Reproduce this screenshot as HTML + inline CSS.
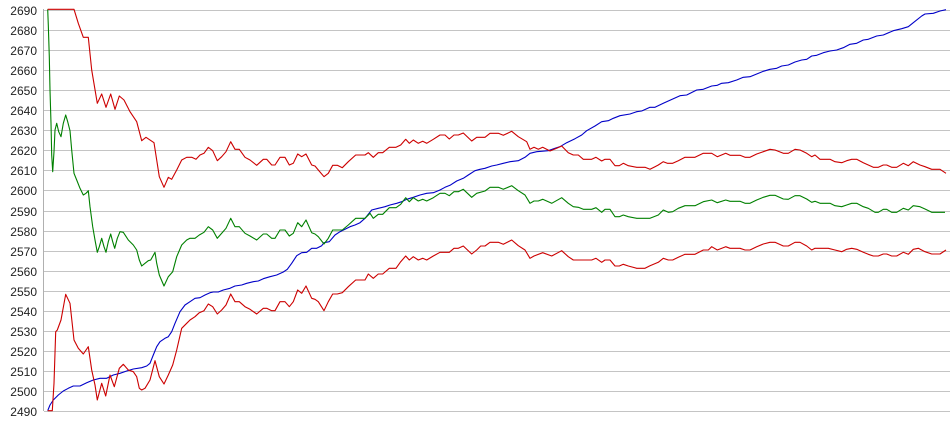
<!DOCTYPE html>
<html><head><meta charset="utf-8"><style>
html,body{margin:0;padding:0;background:#fff;width:950px;height:435px;overflow:hidden}
svg{display:block}
text{font-family:"Liberation Sans",sans-serif;font-size:12px;fill:#222}
</style></head><body>
<svg id="s" width="950" height="435" xmlns="http://www.w3.org/2000/svg">
<g id="grid"></g>
<line x1="43.5" y1="9" x2="43.5" y2="411" stroke="#b0b0b0"/>
<g id="lines" fill="none" stroke-width="1.1" stroke-linejoin="round"></g>
</svg>
<script>
var NS="http://www.w3.org/2000/svg";
var g=document.getElementById('grid');
for(var i=0;i<=20;i++){
 var y=Math.round(10+20.05*i)+0.5;
 var l=document.createElementNS(NS,'line');
 l.setAttribute('x1',44);l.setAttribute('x2',950);l.setAttribute('y1',y);l.setAttribute('y2',y);
 l.setAttribute('stroke','#c4c4c4');g.appendChild(l);
 var t=document.createElementNS(NS,'text');
 t.setAttribute('x',37);t.setAttribute('y',y+4.5);t.setAttribute('text-anchor','end');
 t.textContent=2690-10*i;g.appendChild(t);
}
function conv(a,ox,oy){var r=[];for(var i=0;i<a.length;i+=2){r.push([ox+a[i]/3,oy+a[i+1]/3]);}return r;}
function add(pts,col){
 var p=document.createElementNS(NS,'polyline');
 p.setAttribute('points',pts.map(function(q){return q[0].toFixed(1)+','+q[1].toFixed(1);}).join(' '));
 p.setAttribute('stroke',col);document.getElementById('lines').appendChild(p);
}
// upper red
var ur=conv([143,28,222,28,235,70,250,112,265,112,275,210,292,310,305,282,318,322,332,282,345,328,358,288,372,300,390,335,410,365,425,422,438,412,462,428,478,530,492,562,505,532,515,538,530,510,545,480,560,472,575,472,588,478,600,465,612,460,625,442,638,452,652,482,665,470,678,455,692,425,705,448,718,448,735,472,750,480,770,496,790,478,800,478,815,495,825,495,840,472,855,472,868,495,880,490,893,462,905,470,918,462,935,495,945,498],0,0)
.concat(conv([25,210,42,230,55,220,68,196,82,196,97,203,115,185,137,165,165,165,175,158,190,172,205,158,218,158,238,142,258,142,272,135,287,118,298,130,310,120,325,130,338,124,350,130,370,118,390,105,405,105,418,117,432,105,445,105,460,99,485,123,500,112,525,112,540,100,565,100,580,106,605,94,625,110,650,125,660,148,672,142,685,148,698,142,720,153,740,145,755,138,775,158,790,165,805,165,820,178,845,178,858,172,875,183,885,178,900,178,915,197,928,197,940,190,955,197],310,100))
.concat(conv([20,502,45,502,60,508,75,500,85,495,100,485,112,490,128,490,145,482,165,472,195,472,220,460,245,460,262,470,287,460,300,466,330,466,345,472,360,472,380,462,400,455,420,448,435,450,460,460,475,460,495,448,510,450,530,460,545,470,555,465,570,478,600,478,615,485,635,488,650,482,665,478,680,478,700,488,715,495,730,502,745,502,760,495,770,495,785,502,800,502,820,490,835,497,850,485,870,495,885,500,905,508,930,508,948,520],630,0));
// green
var gr=conv([143,28,145,75,148,170,150,270,153,370,155,465,158,515,162,455,165,390,170,370,176,395,183,410,190,370,197,345,203,365,210,392,215,450,222,520,230,540,240,565,250,585,258,580,265,572,270,620,278,680,285,720,292,757,298,740,305,715,312,740,318,757,325,725,332,702,338,725,344,745,352,715,360,695,370,697,385,720,400,735,410,750,418,780,425,798,435,790,445,782,452,780,465,757,470,790,478,825,492,858,505,830,518,815,530,770,545,735,560,720,570,715,585,715,598,705,612,697,625,680,638,690,652,715,665,700,678,685,692,655,705,680,718,680,735,700,750,708,770,720,790,702,800,702,815,715,825,715,840,690,855,690,868,708,880,700,893,668,905,680,918,660,935,698,945,702],0,0)
.concat(conv([25,410,42,432,55,415,68,390,97,390,115,375,137,355,165,355,180,340,190,355,205,343,218,343,238,323,258,323,272,313,287,293,298,305,310,293,325,303,338,298,350,303,370,293,390,280,405,280,418,287,432,275,445,275,460,268,485,292,500,280,525,273,540,262,565,262,580,268,605,257,625,272,645,285,660,310,672,303,685,303,698,298,725,310,755,293,775,310,790,320,805,322,820,328,845,328,858,323,875,337,885,328,900,328,915,350,928,350,940,345,955,350],310,100))
.concat(conv([20,655,60,655,85,645,100,630,115,637,128,635,145,625,165,617,195,617,220,605,245,600,262,608,287,600,300,604,330,604,345,610,360,610,380,600,400,592,420,586,435,586,460,597,475,598,495,587,510,587,530,597,545,607,555,604,570,610,600,610,615,617,635,620,650,615,665,610,680,610,700,620,715,625,735,637,745,637,760,628,770,628,785,637,800,637,820,625,835,630,850,617,870,620,885,627,905,637,945,637],630,0));
// lower red
var lr=conv([143,1232,157,1232,162,1150,167,995,172,990,183,960,197,883,210,910,222,1020,235,1045,250,1062,265,1040,275,1110,285,1155,292,1200,305,1150,317,1188,330,1125,343,1160,358,1105,370,1093,385,1110,400,1115,410,1130,418,1165,425,1170,435,1165,450,1140,465,1082,478,1130,492,1152,505,1125,518,1095,530,1050,545,985,560,970,570,960,585,950,598,938,612,932,625,912,638,920,652,942,665,930,678,915,692,882,705,905,718,905,735,920,750,928,770,942,790,925,800,925,815,932,825,932,840,905,855,905,868,920,880,905,893,870,905,880,918,858,935,895,945,898],0,0)
.concat(conv([25,605,42,632,55,605,68,582,82,582,97,578,115,560,137,540,165,540,175,522,190,535,205,522,218,522,238,505,258,505,272,485,287,468,298,480,310,470,325,480,338,475,350,480,370,468,390,457,418,457,432,445,445,445,460,438,485,462,500,450,512,438,525,438,540,427,565,427,580,433,605,420,625,437,645,450,660,475,672,468,698,458,725,468,755,452,775,470,790,480,845,480,858,475,875,487,885,480,900,480,915,498,928,498,940,493,955,498],310,100))
.concat(conv([20,805,45,805,60,797,85,787,100,775,115,780,128,780,145,772,165,763,195,763,220,750,235,750,245,740,262,750,287,740,300,745,330,745,345,750,360,750,380,740,400,732,420,727,435,727,460,738,475,738,495,727,510,727,530,738,545,750,555,745,595,745,615,750,635,755,650,748,665,745,680,748,700,757,715,763,730,768,745,768,760,762,770,762,785,768,800,768,820,757,835,763,850,748,865,745,885,755,905,762,930,762,948,750],630,0));
// blue
var bl=conv([143,1232,150,1215,160,1200,175,1185,190,1173,205,1165,220,1158,240,1158,260,1148,280,1140,300,1135,320,1135,340,1125,360,1120,380,1113,400,1107,425,1103,440,1098,450,1090,460,1065,470,1040,480,1025,495,1015,505,1010,515,995,525,970,540,935,555,915,570,905,585,895,600,893,615,885,630,878,640,876,655,876,670,870,690,865,705,858,725,855,740,850,760,845,775,843,790,836,810,830,830,825,850,816,862,808,875,790,890,767,905,758,920,757,935,745,950,745],0,0)
.concat(conv([35,437,42,428,58,425,75,405,90,395,105,388,120,380,135,375,150,368,165,355,185,330,205,325,225,320,240,315,260,310,275,305,290,298,310,292,330,285,350,280,370,278,390,270,405,262,420,256,440,243,460,235,475,225,495,212,510,208,525,205,545,198,560,195,580,190,600,185,625,182,645,172,660,160,680,155,715,152,735,145,750,140,770,128,795,116,815,105,830,92,855,78,875,65,895,62,910,55,930,47],310,100))
.concat(conv([0,342,20,335,35,333,60,322,75,322,100,310,130,296,150,287,170,285,200,270,220,268,245,258,262,256,275,250,295,248,320,240,340,232,360,230,380,222,400,214,420,208,440,205,455,198,475,195,495,186,515,180,530,178,545,168,560,166,580,158,600,153,620,150,640,143,660,133,680,130,700,120,715,118,740,108,760,105,790,92,815,86,835,80,850,68,875,48,885,42,910,40,930,33,948,29],630,0));
add(bl,'#0000c8');add(gr,'#008000');add(lr,'#cc0000');add(ur,'#cc0000');
</script>
</body></html>
